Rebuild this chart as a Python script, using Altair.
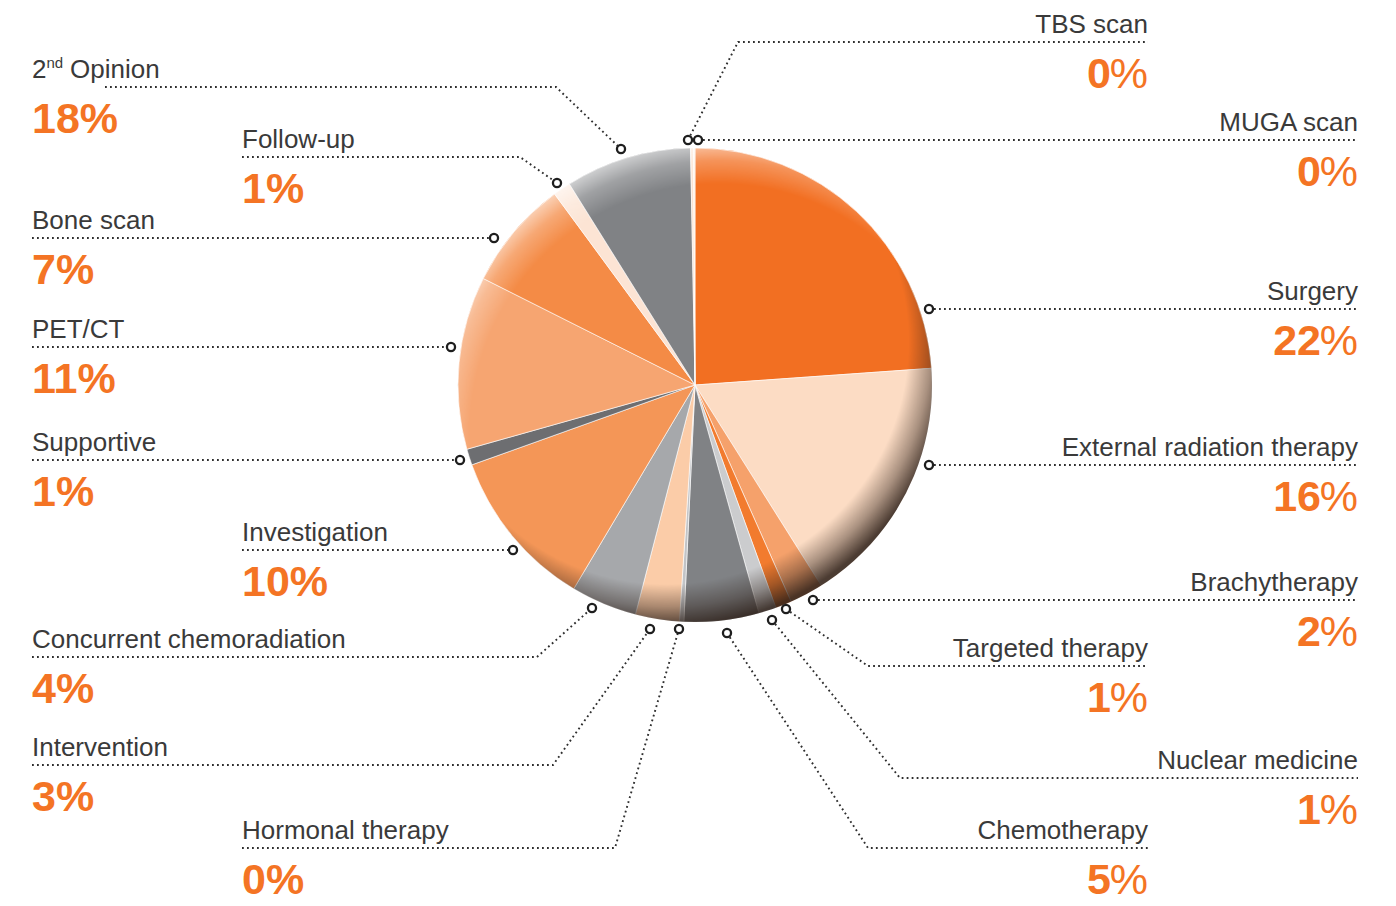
import math
import altair as alt
import pandas as pd

# ---------------- data ----------------
categories = [
    "Surgery", "External radiation therapy", "Brachytherapy", "Targeted therapy",
    "Nuclear medicine", "Chemotherapy", "Hormonal therapy", "Intervention",
    "Concurrent chemoradiation", "Investigation", "Supportive", "PET/CT",
    "Bone scan", "Follow-up", "2nd Opinion", "TBS scan", "MUGA scan",
]
# share of the pie as drawn (%)
slice_share = [23.9, 17.2, 2.3, 1.1, 1.2, 5.1, 0.3, 3.0, 4.5, 11.0, 1.1, 11.8,
               7.5, 1.2, 8.6, 0.2, 0.1]
# percentage printed next to each label
label_pct = [22, 16, 2, 1, 1, 5, 0, 3, 4, 10, 1, 11, 7, 1, 18, 0, 0]
slice_colors = [
    "#F26F22", "#FCDCC4", "#F5A16B", "#F27B2E", "#CBCCCE", "#808285", "#C2C4C7",
    "#FBCCA8", "#A6A8AB", "#F49657", "#6D6E71", "#F6A571", "#F48B46", "#FCE4D4",
    "#808285", "#FBE3D2", "#FDEBDD",
]

# ---------------- layout (page pixels) ----------------
label_side = ["R", "R", "R", "R", "R", "R", "L", "L", "L", "L", "L", "L", "L", "L", "L", "R", "R"]
label_x = [1358, 1358, 1358, 1148, 1358, 1148, 242, 32, 32, 242, 32, 32, 32, 242, 32, 1148, 1358]
line_y = [309, 465, 600, 666, 778, 848, 848, 765, 657, 550, 460, 347, 238, 157, 87, 42, 140]
marker_x = [929, 929, 813, 786, 772, 727, 679, 650, 592, 513, 460, 451, 494, 557, 621, 688, 698]
marker_y = [309, 465, 600, 609, 620, 633, 629, 629, 608, 550, 460, 347, 238, 183, 149, 140, 140]
elbow_x = [None, None, None, 868, 900, 868, 615, 553, 537, None, None, None, None, 520, 556, 738, None]

W, H = 1380, 896
CX, CY, R = 695 - 8, 385 - 8, 237
ORANGE = "#F47424"
TEXT = "#3a3a3a"
FONT = "Liberation Sans"

X = alt.Scale(domain=[8, 8 + W])
Y = alt.Scale(domain=[8, 8 + H], reverse=True)

# ---------------- tables ----------------
pie_df = pd.DataFrame({
    "category": categories,
    "share": slice_share,
    "idx": list(range(len(categories))),
})

path_rows = []
for i, name in enumerate(categories):
    ly = line_y[i]
    if label_side[i] == "R":
        pts = [(marker_x[i], marker_y[i])]
        if elbow_x[i] is not None:
            pts.append((elbow_x[i], ly))
        pts.append((label_x[i], ly))
    else:
        start = 105 if name == "2nd Opinion" else label_x[i]
        pts = [(start, ly)]
        if elbow_x[i] is not None:
            pts.append((elbow_x[i], ly))
        pts.append((marker_x[i], marker_y[i]))
    for k, (px, py) in enumerate(pts):
        path_rows.append({"category": name, "seq": k, "px": px, "py": py})
path_df = pd.DataFrame(path_rows)

marker_df = pd.DataFrame({"category": categories, "mx": marker_x, "my": marker_y})

lab_rows = []
for i, name in enumerate(categories):
    ly = line_y[i]
    row = {
        "category": name, "side": label_side[i], "tx": label_x[i],
        "ty": ly - 9, "py": ly + 46, "pct": label_pct[i],
        "label": name, "pct_full": f"{label_pct[i]}%", "num": f"{label_pct[i]}",
    }
    if name == "2nd Opinion":
        row["label"] = "Opinion"
        row["tx"] = 70
    lab_rows.append(row)
lab_df = pd.DataFrame(lab_rows)
# percent figure always anchored at the label's original x
lab_df["ptx"] = label_x

sup_df = pd.DataFrame({
    "t": ["2", "nd"], "sx": [32, 46.5], "sy": [87 - 9, 87 - 19], "fs": [26, 15],
})

one = pd.DataFrame({"k": [0]})

# ---------------- layers ----------------
pie = alt.Chart(pie_df).mark_arc(outerRadius=R, stroke="#ffffff", strokeWidth=0.6).encode(
    theta=alt.Theta("share:Q", stack=True),
    color=alt.Color("category:N", scale=alt.Scale(domain=categories, range=slice_colors), legend=None),
    order=alt.Order("idx:Q"),
    x=alt.value(CX), y=alt.value(CY),
)

dark_rim = alt.Chart(one).mark_arc(
    theta=0, theta2=2 * math.pi, outerRadius=R,
    color=alt.RadialGradient(
        gradient="radial", x1=0.44, y1=0.41, r1=0, x2=0.44, y2=0.41, r2=0.6,
        stops=[
            alt.GradientStop(color="rgba(45,32,25,0)", offset=0),
            alt.GradientStop(color="rgba(45,32,25,0)", offset=0.85),
            alt.GradientStop(color="rgba(45,32,25,0.4)", offset=0.93),
            alt.GradientStop(color="rgba(45,32,25,0.85)", offset=1),
        ],
    ),
).encode(x=alt.value(CX), y=alt.value(CY))

light_rim = alt.Chart(one).mark_arc(
    theta=0, theta2=2 * math.pi, outerRadius=R,
    color=alt.RadialGradient(
        gradient="radial", x1=0.55, y1=0.6, r1=0, x2=0.55, y2=0.6, r2=0.61,
        stops=[
            alt.GradientStop(color="rgba(255,255,255,0)", offset=0),
            alt.GradientStop(color="rgba(255,255,255,0)", offset=0.86),
            alt.GradientStop(color="rgba(255,255,255,0.25)", offset=0.94),
            alt.GradientStop(color="rgba(255,255,255,0.6)", offset=1),
        ],
    ),
).encode(x=alt.value(CX), y=alt.value(CY))

leaders = alt.Chart(path_df).mark_line(
    strokeDash=[1.8, 3.2], strokeWidth=1.9, color="#2e2e2e"
).encode(
    x=alt.X("px:Q", scale=X, axis=None),
    y=alt.Y("py:Q", scale=Y, axis=None),
    detail="category:N",
    order="seq:Q",
)

markers = alt.Chart(marker_df).mark_point(
    shape="circle", size=66, fill="#ffffff", stroke="#1e1e1e",
    strokeWidth=2.3, fillOpacity=1, strokeOpacity=1, opacity=1,
).encode(
    x=alt.X("mx:Q", scale=X, axis=None),
    y=alt.Y("my:Q", scale=Y, axis=None),
)

left = lab_df[lab_df["side"] == "L"]
right = lab_df[lab_df["side"] == "R"]

left_labels = alt.Chart(left).mark_text(
    align="left", baseline="alphabetic", font=FONT, fontSize=26, color=TEXT
).encode(x=alt.X("tx:Q", scale=X, axis=None), y=alt.Y("ty:Q", scale=Y, axis=None), text="label:N")

right_labels = alt.Chart(right).mark_text(
    align="right", baseline="alphabetic", font=FONT, fontSize=26, color=TEXT
).encode(x=alt.X("tx:Q", scale=X, axis=None), y=alt.Y("ty:Q", scale=Y, axis=None), text="label:N")

sup = alt.Chart(sup_df).mark_text(
    align="left", baseline="alphabetic", font=FONT, color=TEXT
).encode(
    x=alt.X("sx:Q", scale=X, axis=None), y=alt.Y("sy:Q", scale=Y, axis=None),
    text="t:N", size=alt.Size("fs:Q", scale=None, legend=None),
)

left_pct = alt.Chart(left).mark_text(
    align="left", baseline="alphabetic", font=FONT, fontSize=43, fontWeight="bold", color=ORANGE
).encode(x=alt.X("ptx:Q", scale=X, axis=None), y=alt.Y("py:Q", scale=Y, axis=None), text="pct_full:N")

right_num = alt.Chart(right).mark_text(
    align="right", baseline="alphabetic", font=FONT, fontSize=43, fontWeight="bold",
    color=ORANGE, dx=-37,
).encode(x=alt.X("ptx:Q", scale=X, axis=None), y=alt.Y("py:Q", scale=Y, axis=None), text="num:N")

right_sign = alt.Chart(right).mark_text(
    align="right", baseline="alphabetic", font=FONT, fontSize=43, fontWeight="normal", color=ORANGE
).encode(
    x=alt.X("ptx:Q", scale=X, axis=None), y=alt.Y("py:Q", scale=Y, axis=None),
    text=alt.value("%"),
)

chart = alt.layer(
    pie, dark_rim, light_rim, leaders, markers,
    left_labels, right_labels, sup, left_pct, right_num, right_sign,
).properties(
    width=W, height=H, padding=0, autosize="none", background="#ffffff",
).configure_view(stroke=None)

chart.save("out.html", embed_options={"renderer": "svg", "actions": False})
